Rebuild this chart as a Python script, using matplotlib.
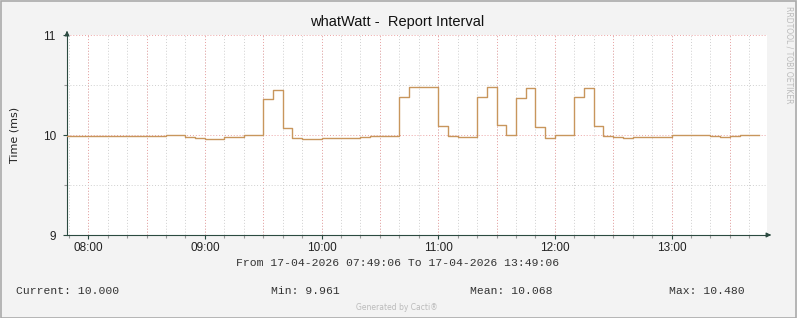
import numpy as np
import matplotlib
matplotlib.use("Agg")
import matplotlib.pyplot as plt
from matplotlib.patches import Rectangle

# 5-minute samples starting 07:45
START_HOUR = 7.75
STEP_MIN = 5
report_ms = [
    9.987, 9.987, 9.987, 9.987, 9.987, 9.987, 9.987, 9.987, 9.987, 9.987, 9.987,
    10.000, 10.000, 9.983, 9.973, 9.963, 9.963, 9.977, 9.977, 10.000, 10.000,
    10.357, 10.447, 10.067, 9.967, 9.961, 9.961, 9.967, 9.967, 9.967, 9.967,
    9.980, 9.987, 9.987, 9.987, 10.377, 10.477, 10.477, 10.477, 10.087, 9.987,
    9.977, 9.977, 10.377, 10.480, 10.097, 10.000, 10.367, 10.467, 10.077, 9.967,
    10.000, 10.000, 10.377, 10.467, 10.087, 9.987, 9.977, 9.967, 9.983, 9.983,
    9.983, 9.983, 10.000, 10.000, 10.000, 10.000, 9.987, 9.977, 9.987, 10.000,
    10.000,
]
x_start = 7 + 49 / 60 + 6 / 3600
x_end = 13 + 49 / 60 + 6 / 3600
hour_labels = ["08:00", "09:00", "10:00", "11:00", "12:00", "13:00"]
legend_items = ["Current: 10.000", "Min: 9.961", "Mean: 10.068", "Max: 10.480"]

BG = "#F3F3F3"
AXIS = "#2B4A40"
LINE = "#C8965C"
W, H = 797, 318

fig = plt.figure(figsize=(W / 100, H / 100), dpi=100, facecolor=BG)
ax = fig.add_axes([67 / W, (H - 235) / H, 700 / W, 200 / H])
ax.set_facecolor("white")

t = START_HOUR + np.arange(len(report_ms) + 1) * STEP_MIN / 60
vals = report_ms + [report_ms[-1]]
ax.step(t, vals, where="post", color=LINE, lw=1.0, zorder=3)

ax.set_xlim(x_start, x_end)
ax.set_ylim(9, 11)

# grid: minor every 10 min, major every 30 min, labels each hour
minor_x = np.arange(7 + 50 / 60, x_end, 10 / 60)
major_x = np.arange(8, x_end, 0.5)
hours = np.arange(8, 14)
ax.set_xticks(minor_x, minor=True)
ax.set_xticks(hours)
ax.set_xticklabels(hour_labels)
ax.set_yticks([9, 10, 11])
ax.set_yticklabels(["9", "10", "11"])
ax.set_yticks([9.5, 10.5], minor=True)
ax.grid(False)
for xv in minor_x:
    ax.axvline(xv, color="#CFCFCF", lw=0.7, ls=(0, (1, 2)), zorder=1)
for xv in major_x:
    ax.axvline(xv, color="#EBA4A4", lw=0.7, ls=(0, (1, 2)), zorder=1)
for yv in [9.5, 10.5]:
    ax.axhline(yv, color="#CFCFCF", lw=0.7, ls=(0, (1, 2)), zorder=1)
for yv in [10, 11]:
    ax.axhline(yv, color="#EBA4A4", lw=0.7, ls=(0, (1, 2)), zorder=1)

for s in ["top", "right"]:
    ax.spines[s].set_visible(False)
for s in ["left", "bottom"]:
    ax.spines[s].set_color(AXIS)
    ax.spines[s].set_linewidth(0.8)
ax.tick_params(axis="both", which="major", length=3, width=0.8, color=AXIS,
               labelsize=8, pad=2, labelcolor="#222222")
ax.tick_params(axis="both", which="minor", length=2, width=0.8, color="#999999")
ax.tick_params(axis="y", which="major", length=3, pad=5)
for lab in ax.get_xticklabels() + ax.get_yticklabels():
    lab.set_family("Liberation Sans")
    lab.set_fontsize(8.5)

# arrows at the axis ends
ax.annotate("", xy=(774 / W, (H - 235) / H), xytext=(766 / W, (H - 235) / H),
            xycoords="figure fraction",
            arrowprops=dict(arrowstyle="-|>", color=AXIS, lw=0.8, mutation_scale=7))
ax.annotate("", xy=(67 / W, (H - 28) / H), xytext=(67 / W, (H - 36) / H),
            xycoords="figure fraction",
            arrowprops=dict(arrowstyle="-|>", color=AXIS, lw=0.8, mutation_scale=7))

ax.set_ylabel("Time (ms)", fontsize=8, family="DejaVu Sans", labelpad=17, color="#222222")

fig.text(397 / W, 1 - 22 / H, "whatWatt -  Report Interval", ha="center", va="center",
         fontsize=10.5, family="Liberation Sans", color="#111111")

fig.text(398 / W, 1 - 263 / H,
         "From 17-04-2026 07:49:06 To 17-04-2026 13:49:06",
         ha="center", va="center", fontsize=8.2, family="Liberation Mono", color="#333333")

leg_x = [16, 271, 470, 669]
for xp, txt in zip(leg_x, legend_items):
    fig.text(xp / W, 1 - 291 / H, txt, ha="left", va="center", fontsize=8.2,
             family="Liberation Mono", color="#333333")

fig.text(397 / W, 1 - 307 / H, "Generated by Cacti\u00ae", ha="center", va="center",
         fontsize=5.5, family="DejaVu Sans", color="#BBBBBB")
fig.text(789 / W, 1 - 55 / H, "RRDTOOL / TOBI OETIKER", ha="center", va="center",
         rotation=-90, fontsize=5.5, family="DejaVu Sans", color="#BBBBBB")

fig.patches.append(Rectangle((0.5 / W, 0.5 / H), (W - 1.5) / W, (H - 1.5) / H,
                             transform=fig.transFigure, fill=False,
                             edgecolor="#AAAAAA", lw=1.2))

fig.savefig("out.png", dpi=100, facecolor=BG)
